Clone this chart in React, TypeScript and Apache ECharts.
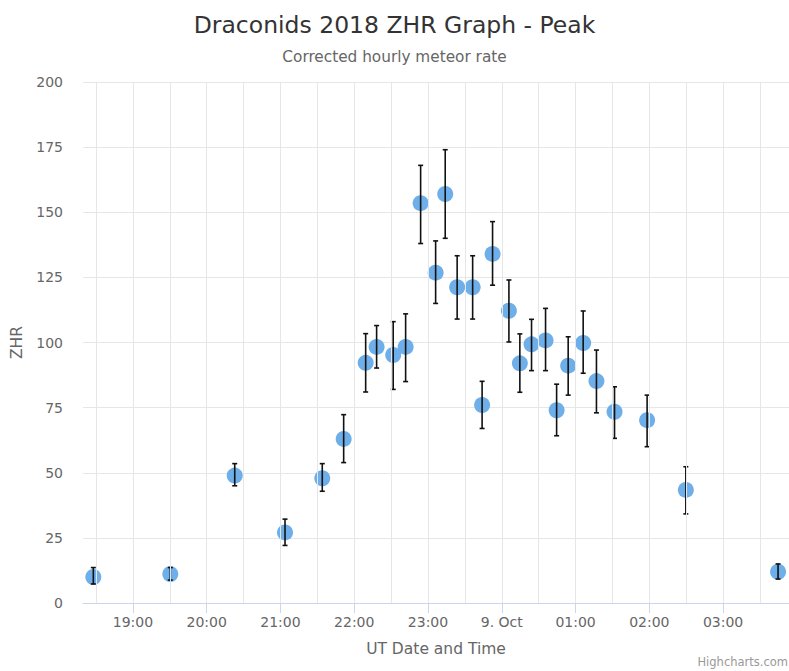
import React, { useEffect, useRef } from 'react';
import * as echarts from 'echarts';

// Observation times (UT), ZHR values and error bar bounds
const times: string[] = [
  '2018-10-08 18:27:48', '2018-10-08 19:30:24', '2018-10-08 20:22:48', '2018-10-08 21:03:42',
  '2018-10-08 21:34:00', '2018-10-08 21:51:24', '2018-10-08 22:09:18', '2018-10-08 22:18:12',
  '2018-10-08 22:31:42', '2018-10-08 22:41:48', '2018-10-08 22:54:00', '2018-10-08 23:06:12',
  '2018-10-08 23:14:00', '2018-10-08 23:23:42', '2018-10-08 23:36:18', '2018-10-08 23:44:00',
  '2018-10-08 23:52:30', '2018-10-09 00:05:48', '2018-10-09 00:14:42', '2018-10-09 00:24:12',
  '2018-10-09 00:35:36', '2018-10-09 00:44:36', '2018-10-09 00:54:00', '2018-10-09 01:06:12',
  '2018-10-09 01:17:00', '2018-10-09 01:31:42', '2018-10-09 01:58:12', '2018-10-09 02:29:42',
  '2018-10-09 03:44:42',
];
const zhr: number[] = [
  10, 11.1, 48.9, 27.1, 47.9, 63, 92.2, 98.3, 95.2, 98.3, 153.5, 126.8, 157, 121.2, 121.2,
  76, 134, 112.2, 92, 99.3, 100.8, 74, 91.1, 99.8, 85.2, 73.4, 70.2, 43.4, 12,
];
const errLow: number[] = [
  7.3, 8.8, 45, 22.1, 42.9, 53.9, 81, 90.2, 82, 85, 138, 115, 140, 109, 109,
  67, 122, 100.2, 80.9, 89.2, 89.2, 64.2, 79.8, 88.2, 73, 63.2, 60, 34.2, 9.2,
];
const errHigh: number[] = [
  13.6, 13.6, 53.5, 32.2, 53.5, 72.3, 103.4, 106.5, 108, 111, 168, 139, 174, 133.3, 133.3,
  85.1, 146.4, 124, 103.3, 108.9, 113.1, 84, 102.2, 112.1, 97.1, 83, 79.8, 52.3, 15,
];
const xMin = '2018-10-08 18:19:24';
const xMax = '2018-10-09 03:53:36';
// vertical grid lines every half hour
const gridTimes: string[] = [
  '2018-10-08 18:30', '2018-10-08 19:00', '2018-10-08 19:30', '2018-10-08 20:00',
  '2018-10-08 20:30', '2018-10-08 21:00', '2018-10-08 21:30', '2018-10-08 22:00',
  '2018-10-08 22:30', '2018-10-08 23:00', '2018-10-08 23:30', '2018-10-09 00:00',
  '2018-10-09 00:30', '2018-10-09 01:00', '2018-10-09 01:30', '2018-10-09 02:00',
  '2018-10-09 02:30', '2018-10-09 03:00', '2018-10-09 03:30',
];

const FONT = "'DejaVu Sans', Verdana, sans-serif";

const hourLabel = (value: number) => {
  const d = new Date(value);
  if (d.getMinutes() !== 0 || d.getSeconds() !== 0) return '';
  const h = d.getHours();
  if (h === 0) return '9. Oct';
  return (h < 10 ? '0' + h : '' + h) + ':00';
};

export default function App() {
  const ref = useRef<HTMLDivElement>(null);
  useEffect(() => {
    if (!ref.current) return;
    const chart = echarts.init(ref.current, undefined, { renderer: 'svg' });
    const scatterData = times.map((t, i) => [t, zhr[i]]);
    const errData = times.map((t, i) => [t, errLow[i], errHigh[i]]);
    chart.setOption({
      animation: false,
      backgroundColor: '#ffffff',
      title: {
        text: 'Draconids 2018 ZHR Graph - Peak',
        subtext: 'Corrected hourly meteor rate',
        left: 'center',
        top: 8,
        itemGap: 12,
        textStyle: { fontFamily: FONT, fontSize: 23.5, fontWeight: 'normal', color: '#333333' },
        subtextStyle: { fontFamily: FONT, fontSize: 15.3, color: '#666666' },
      },
      grid: { left: 83, right: 0, top: 82, bottom: 68, containLabel: false },
      xAxis: [
        {
          type: 'time',
          min: xMin,
          max: xMax,
          name: 'UT Date and Time',
          nameLocation: 'middle',
          nameGap: 38,
          nameTextStyle: { fontFamily: FONT, fontSize: 15.5, color: '#666666' },
          axisLine: { show: true, lineStyle: { color: '#ccd6eb', width: 1 } },
          axisTick: { show: false },
          axisLabel: { show: false },
          splitLine: { show: false },
        },
        {
          type: 'time',
          position: 'bottom',
          min: xMin,
          max: xMax,
          minInterval: 3600000,
          maxInterval: 3600000,
          axisLine: { show: false },
          axisTick: { show: true, length: 10, lineStyle: { color: '#ccd6eb', width: 1 } },
          splitLine: { show: false },
          axisLabel: {
            show: true,
            formatter: hourLabel,
            showMinLabel: false,
            showMaxLabel: false,
            margin: 12,
            fontFamily: FONT,
            fontSize: 14,
            color: '#666666',
          },
        },
      ],
      yAxis: {
        type: 'value',
        min: 0,
        max: 200,
        interval: 25,
        name: 'ZHR',
        nameLocation: 'middle',
        nameGap: 58,
        nameTextStyle: { fontFamily: FONT, fontSize: 15.5, color: '#666666' },
        axisLine: { show: false },
        axisTick: { show: false },
        axisLabel: { margin: 20, fontFamily: FONT, fontSize: 14, color: '#666666' },
        splitLine: { show: true, lineStyle: { color: '#e6e6e6', width: 1 } },
      },
      series: [
        {
          type: 'scatter',
          xAxisIndex: 0,
          data: [],
          z: 1,
          silent: true,
          markLine: {
            silent: true,
            symbol: ['none', 'none'],
            animation: false,
            label: { show: false },
            lineStyle: { color: '#e6e6e6', width: 1, type: 'solid' },
            emphasis: { disabled: true },
            data: gridTimes.map((t) => ({ xAxis: t })),
          },
        },
        {
          type: 'scatter',
          xAxisIndex: 0,
          data: scatterData,
          symbol: 'circle',
          symbolSize: 16,
          itemStyle: { color: '#6eaee9', opacity: 1 },
          z: 2,
        },
        {
          type: 'custom',
          xAxisIndex: 0,
          data: errData,
          encode: { x: 0, y: [1, 2] },
          z: 3,
          renderItem: (params: any, api: any) => {
            const x = api.value(0);
            const lo = api.coord([x, api.value(1)]);
            const hi = api.coord([x, api.value(2)]);
            const w = 2.5;
            const style = { stroke: '#111111', lineWidth: 1.6 };
            return {
              type: 'group',
              children: [
                { type: 'line', shape: { x1: lo[0], y1: lo[1], x2: hi[0], y2: hi[1] }, style },
                { type: 'line', shape: { x1: hi[0] - w, y1: hi[1], x2: hi[0] + w, y2: hi[1] }, style },
                { type: 'line', shape: { x1: lo[0] - w, y1: lo[1], x2: lo[0] + w, y2: lo[1] }, style },
              ],
            };
          },
        },
      ],
      graphic: [
        {
          type: 'text',
          right: 1,
          top: 656,
          style: { text: 'Highcharts.com', fontFamily: FONT, fontSize: 11.5, fill: '#999999' },
        },
      ],
    });
    return () => chart.dispose();
  }, []);
  return (
    <div
      ref={ref}
      style={{ position: 'absolute', left: 0, top: 0, width: 789, height: 671 }}
    />
  );
}
